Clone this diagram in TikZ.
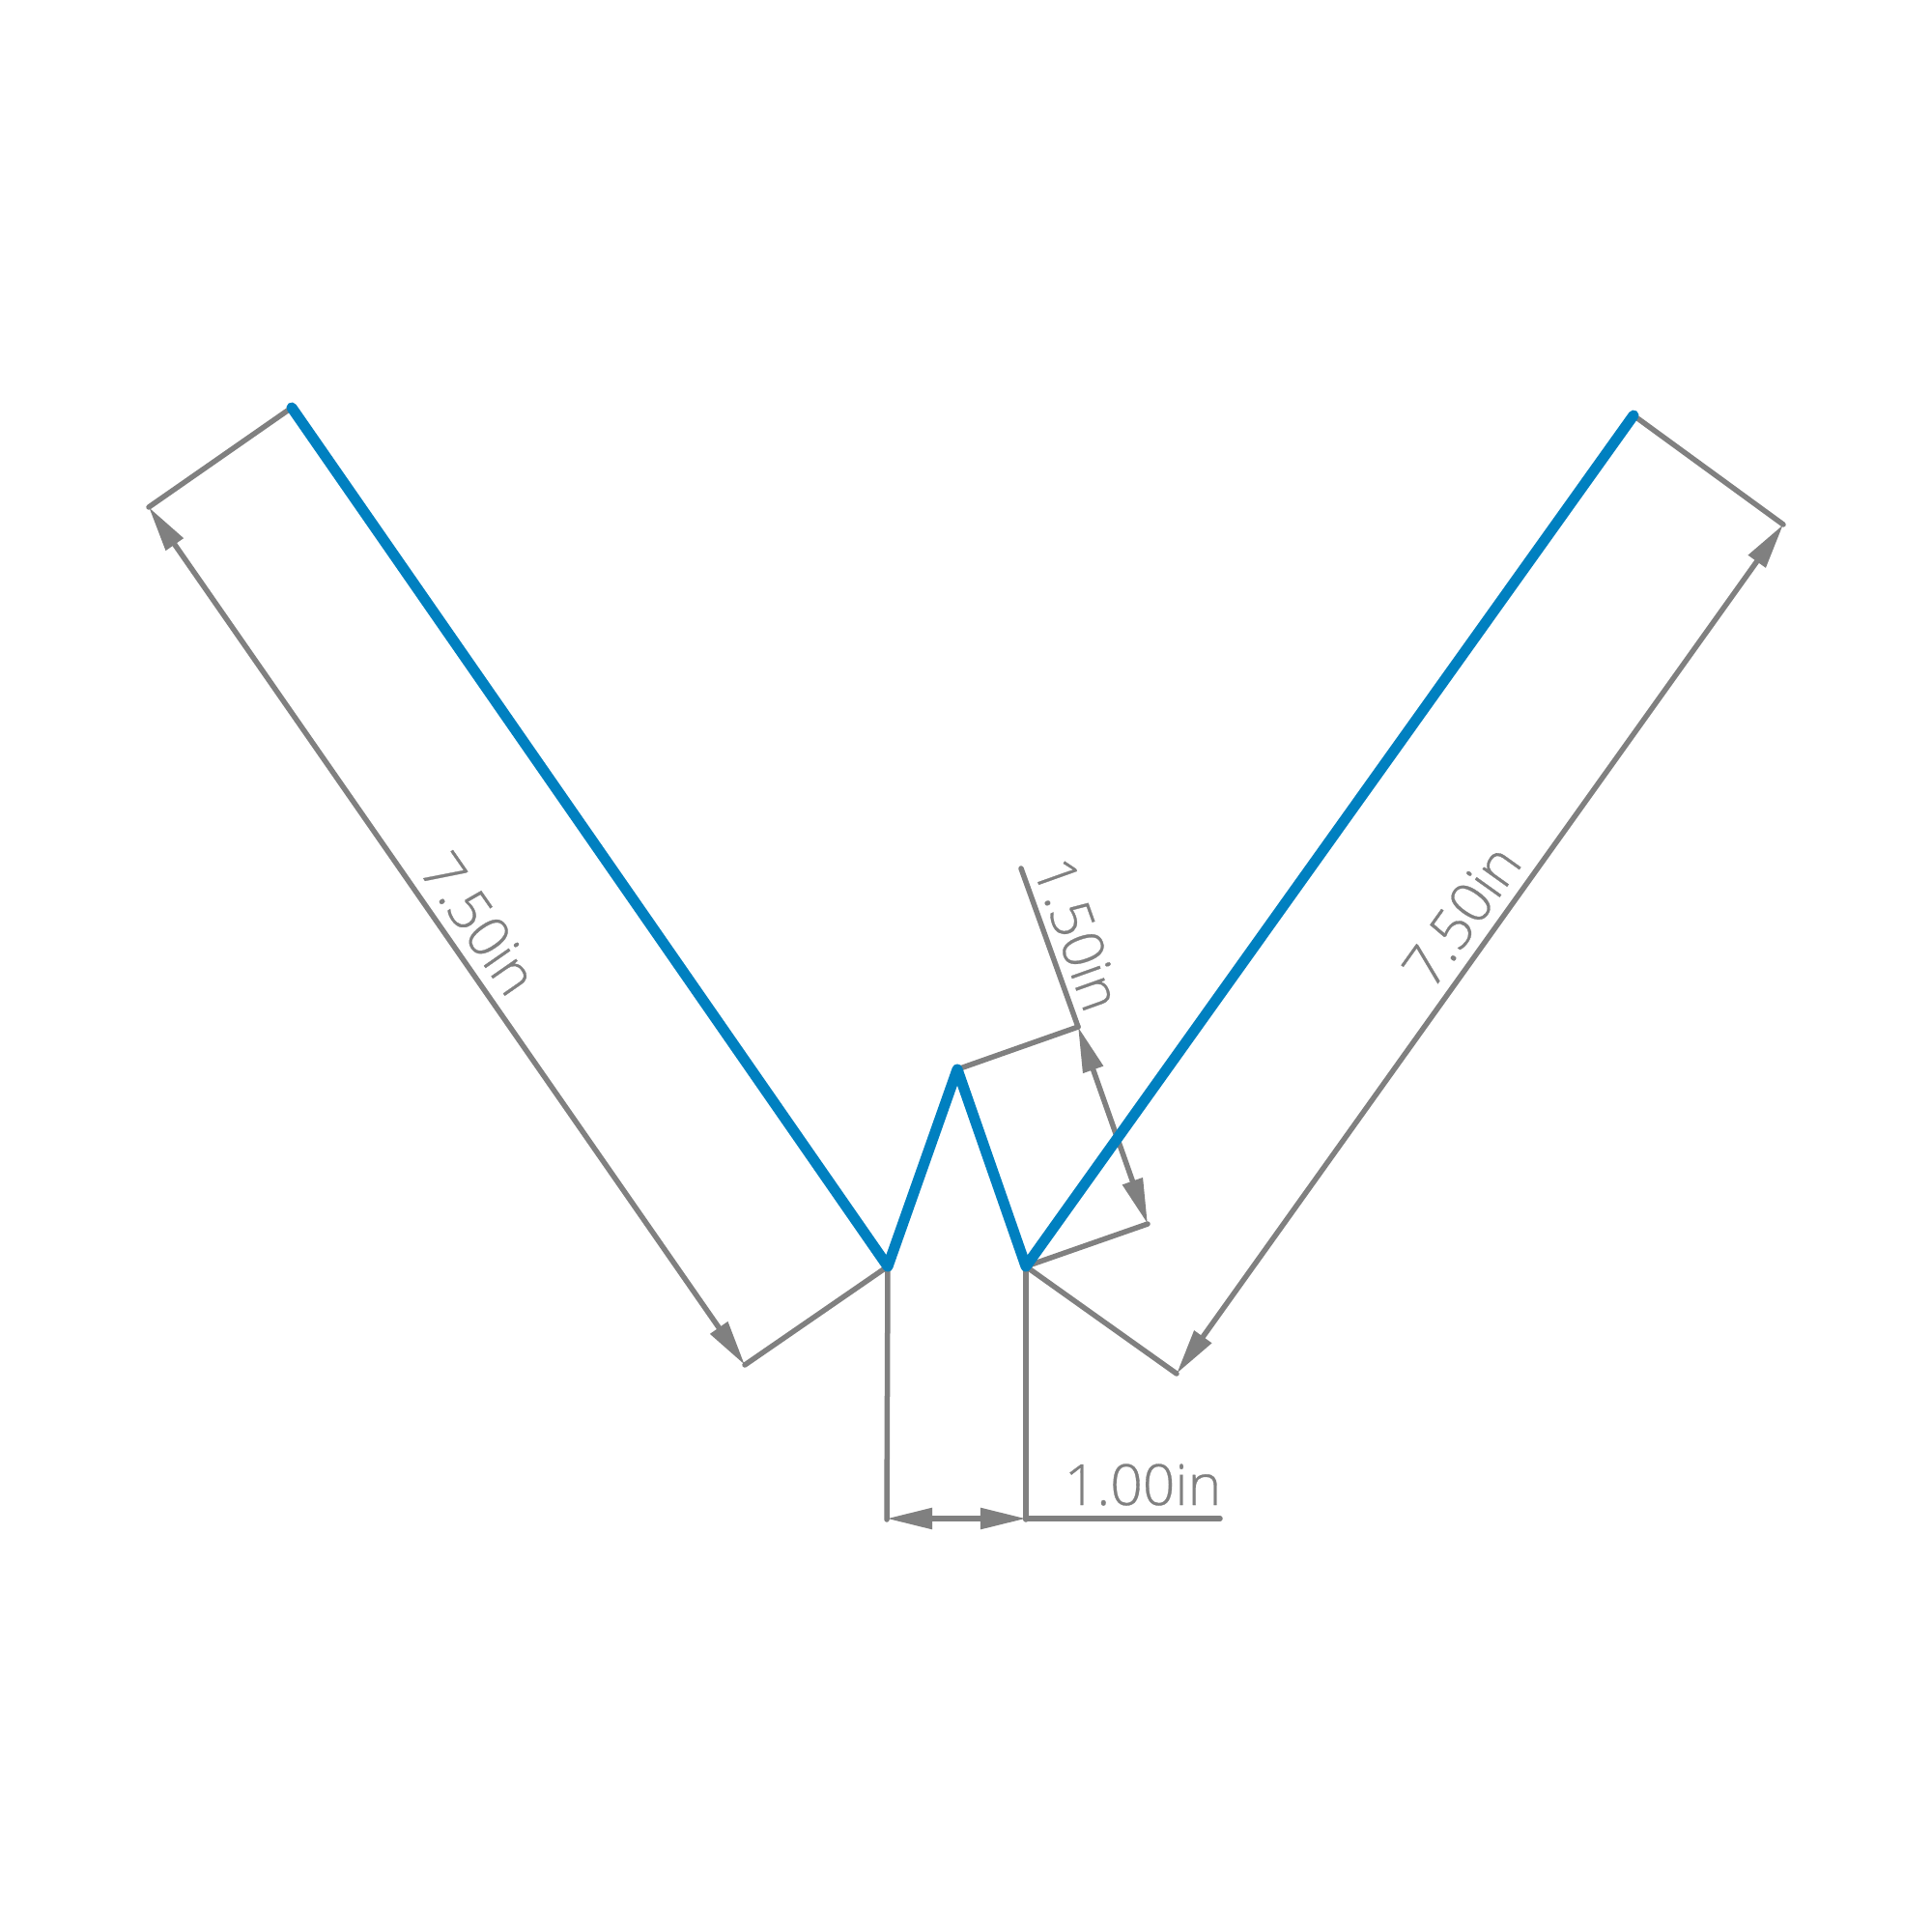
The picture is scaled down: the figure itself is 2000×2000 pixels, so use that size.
\documentclass[tikz,border=0pt]{standalone}
\usepackage{fontspec}
\usetikzlibrary{arrows.meta}
\newfontfamily\dimfont[FakeBold=0.5,RawFeature=-kern]{Open Sans Light}
\definecolor{dimgray}{HTML}{808080}
\definecolor{wireblue}{HTML}{0080C0}
\tikzset{
  wire/.style={draw=wireblue,line width=0.11cm,line cap=round,line join=round},
  dimline/.style={draw=dimgray,line width=0.055cm,line cap=round},
  dimarrow/.style={dimline,{Triangle[length=0.47cm,width=0.21cm,fill=dimgray]}-{Triangle[length=0.47cm,width=0.21cm,fill=dimgray]}},
  dimtext/.style={text=dimgray,font=\dimfont\fontsize{16.7pt}{20pt}\selectfont,inner sep=0pt,anchor=base}
}
\begin{document}
\begin{tikzpicture}[x=0.01cm,y=-0.01cm]
\useasboundingbox (0,0) rectangle (2000,2000);
\coordinate (A) at (302,422);
\coordinate (B) at (919,1311);
\coordinate (C) at (991,1107);
\coordinate (D) at (1062,1311);
\coordinate (E) at (1691,430);
\coordinate (F) at (154,525);
\coordinate (G) at (771,1413);
\coordinate (H) at (1846,543);
\coordinate (I) at (1218,1422);
\coordinate (J) at (1116,1063);
\coordinate (K) at (1188,1267);
\coordinate (L) at (1057,899);
\coordinate (M) at (918,1573);
\coordinate (N) at (1062,1573);
\coordinate (P) at (918,1572);
\coordinate (Q) at (1062,1572);
\coordinate (O) at (1263,1572);
% extension lines
\draw[dimline] (A) -- (F);
\draw[dimline] (B) -- (G);
\draw[dimline] (E) -- (H);
\draw[dimline] (D) -- (I);
\draw[dimline] (C) -- (J);
\draw[dimline] (D) -- (K);
\draw[dimline] (B) -- (M);
\draw[dimline] (D) -- (N);
% dimension lines
\draw[dimarrow] (F) -- (G);
\draw[dimarrow] (H) -- (I);
\draw[dimarrow] (J) -- (K);
\draw[dimline] (L) -- (J);
\draw[dimarrow] (P) -- (Q);
\draw[dimline] (Q) -- (O);
% part outline
\draw[wire] (A) -- (B) -- (C) -- (D) -- (E);
% labels
\node[dimtext,rotate=-55.2] (t1) at (479,968) {7.50in};
\node[dimtext,rotate=54.5] (t2) at (1530,960) {7.50in};
\node[dimtext,rotate=-70.4] (t3) at (1096,974) {1.50in};
\node[dimtext] (t4) at (1183,1558) {1.00in};
\end{tikzpicture}
\end{document}
